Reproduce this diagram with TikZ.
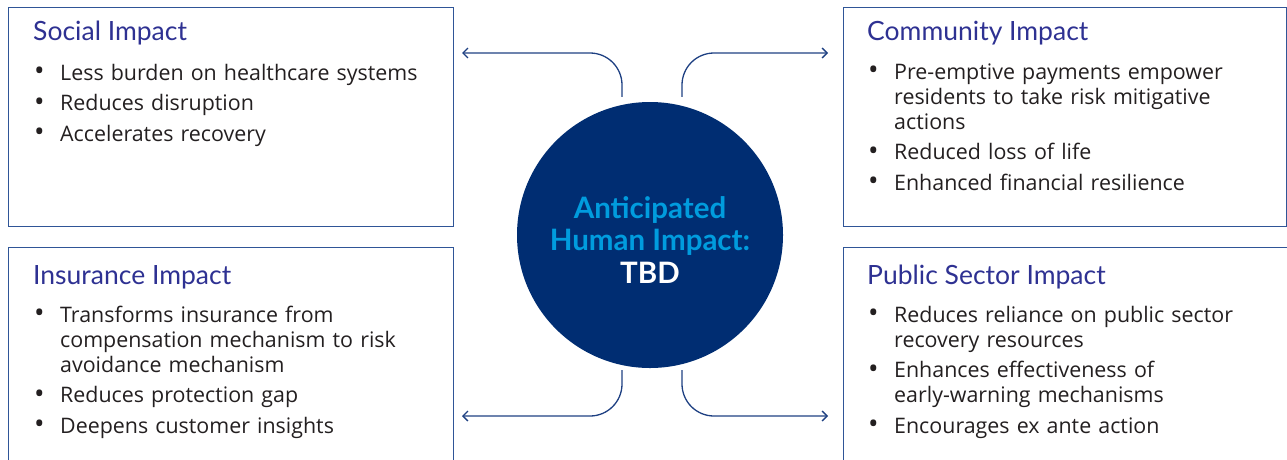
\documentclass[tikz,border=0pt]{standalone}
\usepackage{fontspec}
\setmainfont{Open Sans}
\newfontfamily\headfont{Lato}
\usetikzlibrary{arrows.meta,positioning}
\definecolor{boxblue}{RGB}{47,85,151}
\definecolor{linkblue}{RGB}{30,64,130}
\definecolor{headblue}{RGB}{46,49,146}
\definecolor{hubnavy}{RGB}{0,45,114}
\definecolor{hubcyan}{RGB}{0,156,222}
\definecolor{bodygray}{RGB}{35,31,32}

% bullet line with hanging indent
\newcommand{\bitem}[1]{\hangindent=27pt\hangafter=1\noindent\makebox[27pt][l]{\hspace{1pt}\raisebox{-0.5pt}{\fontsize{28}{28}\selectfont\textbullet}}#1\par\vspace{5.5pt}}

\begin{document}
\begin{tikzpicture}[x=1pt, y=-1pt,
  impactbox/.style={draw=boxblue, line width=1.3pt, anchor=north west,
               minimum width=445pt, minimum height=219pt, inner sep=0pt},
  boxtitle/.style={anchor=base west, inner sep=0pt,
               font=\headfont\fontsize{26.5}{30}\selectfont, text=headblue},
  boxbody/.style={anchor=base west, inner sep=0pt, text width=420pt, align=left,
               font=\fontsize{21.4}{25}\selectfont, text=bodygray},
  hubtxt/.style={align=center, text=hubcyan,
               font=\headfont\bfseries\fontsize{29.5}{32.5}\selectfont},
  hub/.style={circle, fill=hubnavy, minimum size=266pt, inner sep=0pt},
  link/.style={draw=linkblue, line width=1.3pt, rounded corners=32pt,
               -{Straight Barb[length=5pt,width=10pt]}}
]
  \useasboundingbox (0,0) rectangle (1287,459);

  \node[impactbox] (socbox) at (8,7) {};
  \node[impactbox, minimum width=443pt] (combox) at (843,7) {};
  \node[impactbox, minimum height=225pt] (insbox) at (8,247) {};
  \node[impactbox, minimum width=450pt, minimum height=225pt] (pubbox) at (843,247) {};

  \node[boxtitle] (soctitle) at ([xshift=25pt,yshift=-33pt]socbox.north west) {Social Impact};
  \node[boxtitle] (comtitle) at ([xshift=24pt,yshift=-33pt]combox.north west) {Community Impact};
  \node[boxtitle] (institle) at ([xshift=25pt,yshift=-37pt]insbox.north west) {Insurance Impact};
  \node[boxtitle] (pubtitle) at ([xshift=24pt,yshift=-37pt]pubbox.north west) {Public Sector Impact};

  \node[boxbody] (socbody) at ([yshift=-40pt]soctitle.base west) {%
    \bitem{Less burden on healthcare systems}
    \bitem{Reduces disruption}
    \bitem{Accelerates recovery}};
  \node[boxbody] (combody) at ([yshift=-39pt]comtitle.base west) {%
    \bitem{Pre-emptive payments empower\newline residents to take risk mitigative\newline actions}
    \bitem{Reduced loss of life}
    \bitem{Enhanced financial resilience}};
  \node[boxbody] (insbody) at ([yshift=-38pt]institle.base west) {%
    \bitem{Transforms insurance from\newline compensation mechanism to risk\newline avoidance mechanism}
    \bitem{Reduces protection gap}
    \bitem{Deepens customer insights}};
  \node[boxbody] (pubbody) at ([yshift=-38pt]pubtitle.base west) {%
    \bitem{Reduces reliance on public sector\newline recovery resources}
    \bitem{Enhances effectiveness of\newline early-warning mechanisms}
    \bitem{Encourages ex ante action}};

  \node[hub] (hub) at (650,235) {};
  \node[hubtxt] (hubtext) at ([yshift=-5pt]hub.center)
    {Anticipated\\Human Impact:\\\textcolor{white}{TBD}};

  \coordinate (socend) at (462,53);
  \coordinate (comend) at (828,53);
  \coordinate (insend) at (462,416);
  \coordinate (pubend) at (828,416);

  \draw[link] ([xshift=-28pt,yshift=5pt]hub.north) |- (socend);
  \draw[link] ([xshift=32pt,yshift=5pt]hub.north) |- (comend);
  \draw[link] ([xshift=-28pt,yshift=-2pt]hub.south) |- (insend);
  \draw[link] ([xshift=32pt,yshift=-2pt]hub.south) |- (pubend);
\end{tikzpicture}
\end{document}
